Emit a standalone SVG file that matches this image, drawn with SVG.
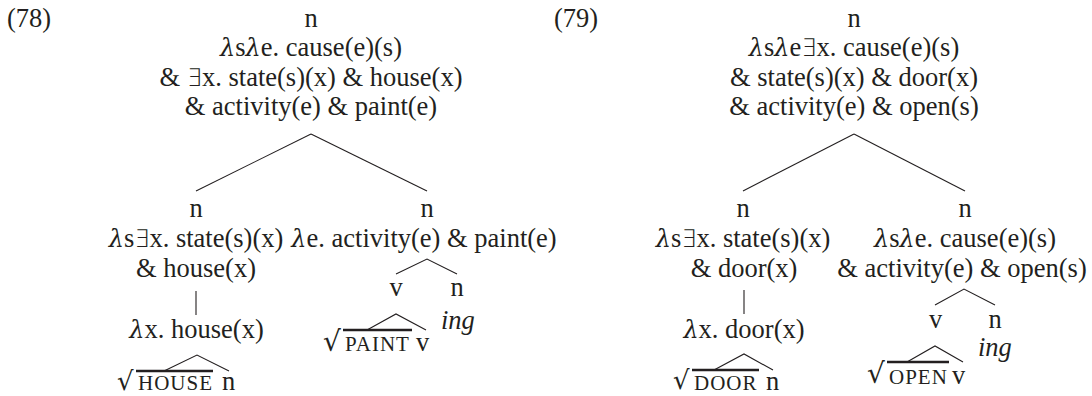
<svg xmlns="http://www.w3.org/2000/svg" width="1092" height="396" viewBox="0 0 1092 396" font-family="Liberation Serif, serif">
<style>
text{font-family:Liberation Serif,serif;font-size:26.5px;fill:#231f20}
.m{text-anchor:middle}
.sc{font-size:21px;letter-spacing:1px}
.it{font-style:italic}
.l{font-style:italic;font-family:DejaVu Serif,serif;font-size:24px}
.e{font-family:DejaVu Sans,sans-serif;font-weight:200;font-size:24px}
.rad{font-family:DejaVu Serif,serif;font-size:28px}
.rad2{font-family:DejaVu Serif,serif;font-size:26px}
line,polyline{stroke:#231f20;stroke-width:1.1;fill:none}
.bar{stroke-width:2.4}
</style>
<rect width="1092" height="396" fill="#fff"/>
<text id="ex78" x="7" y="27">(78)</text>
<text id="ex79" x="554" y="27">(79)</text>
<g id="connectors">
<line x1="311" y1="134" x2="196" y2="191"/>
<line x1="311" y1="134" x2="427" y2="191"/>
<line x1="196" y1="291" x2="196" y2="315"/>
<polyline points="164,371 197,355 229,371"/>
<polyline points="396,274 427,259 457,274"/>
<polyline points="367,330 396,314 426,330"/>
<line x1="854" y1="134" x2="743" y2="191"/>
<line x1="854" y1="134" x2="965" y2="191"/>
<line x1="744" y1="290" x2="744" y2="314"/>
<polyline points="714,370 744,354 773,370"/>
<polyline points="935,305 964,289 995,305"/>
<polyline points="907,362 935,346 963,362"/>
</g>
<g id="n78-root">
<text class="m" x="311" y="27">n</text>
<text class="m" x="311" y="56"><tspan class="l">λ</tspan>s<tspan class="l">λ</tspan>e. cause(e)(s)</text>
<text class="m" x="311" y="86">&amp; <tspan class="e">∃</tspan>x. state(s)(x) &amp; house(x)</text>
<text class="m" x="311" y="115">&amp; activity(e) &amp; paint(e)</text>
</g>
<g id="n78-left">
<text class="m" x="196" y="217">n</text>
<text class="m" x="196" y="247"><tspan class="l">λ</tspan>s<tspan class="e">∃</tspan>x. state(s)(x)</text>
<text class="m" x="196" y="277">&amp; house(x)</text>
</g>
<g id="n78-house">
<text class="m" x="196.5" y="338"><tspan class="l">λ</tspan>x. house(x)</text>
</g>
<g id="n78-root-house">
<text class="rad2" x="117" y="389.5">√</text>
<line class="bar" x1="136" y1="371" x2="213" y2="371"/>
<text class="sc" x="138" y="390">HOUSE</text>
</g>
<g id="n78-n"><text x="222" y="390">n</text></g>
<g id="n78-right">
<text class="m" x="427" y="217">n</text>
<text class="m" x="424" y="247"><tspan class="l">λ</tspan>e. activity(e) &amp; paint(e)</text>
</g>
<g id="n78-v"><text class="m" x="396" y="296">v</text></g>
<g id="n78-n2"><text class="m" x="457" y="296">n</text></g>
<g id="n78-root-paint">
<text class="rad" x="323" y="350.5">√</text>
<line class="bar" x1="343" y1="330" x2="412" y2="330"/>
<text class="sc" x="345" y="351">PAINT</text>
</g>
<g id="n78-v2"><text x="416" y="351">v</text></g>
<g id="n78-ing"><text class="it" x="441" y="329">ing</text></g>

<g id="n79-root">
<text class="m" x="854" y="27">n</text>
<text class="m" x="854" y="56"><tspan class="l">λ</tspan>s<tspan class="l">λ</tspan>e<tspan class="e">∃</tspan>x. cause(e)(s)</text>
<text class="m" x="854" y="86">&amp; state(s)(x) &amp; door(x)</text>
<text class="m" x="854" y="115">&amp; activity(e) &amp; open(s)</text>
</g>
<g id="n79-left">
<text class="m" x="743" y="217">n</text>
<text class="m" x="743" y="247"><tspan class="l">λ</tspan>s<tspan class="e">∃</tspan>x. state(s)(x)</text>
<text class="m" x="744" y="277">&amp; door(x)</text>
</g>
<g id="n79-door">
<text class="m" x="744" y="338"><tspan class="l">λ</tspan>x. door(x)</text>
</g>
<g id="n79-root-door">
<text class="rad2" x="673" y="389">√</text>
<line class="bar" x1="692" y1="370" x2="759" y2="370"/>
<text class="sc" x="694" y="390">DOOR</text>
</g>
<g id="n79-n"><text x="766" y="390">n</text></g>
<g id="n79-right">
<text class="m" x="965" y="217">n</text>
<text class="m" x="965" y="247"><tspan class="l">λ</tspan>s<tspan class="l">λ</tspan>e. cause(e)(s)</text>
<text class="m" x="962" y="277">&amp; activity(e) &amp; open(s)</text>
</g>
<g id="n79-v"><text class="m" x="935.5" y="328">v</text></g>
<g id="n79-n2"><text class="m" x="995" y="328">n</text></g>
<g id="n79-root-open">
<text class="rad" x="867" y="382.5">√</text>
<line class="bar" x1="887" y1="362" x2="949" y2="362"/>
<text class="sc" x="889" y="384">OPEN</text>
</g>
<g id="n79-v2"><text x="952" y="384">v</text></g>
<g id="n79-ing"><text class="it" x="978" y="356">ing</text></g>
</svg>
